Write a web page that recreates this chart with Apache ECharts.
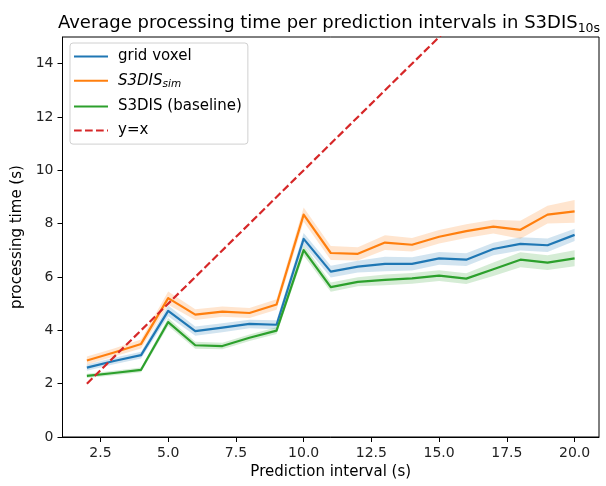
<!DOCTYPE html>
<html><head><meta charset="utf-8">
<script src="https://cdn.jsdelivr.net/npm/echarts@6/dist/echarts.min.js"></script>
<style>html,body{margin:0;padding:0;background:#fff}#c{width:606px;height:486px}</style>
</head><body><div id="c"></div>
<script>
// ---- data ----
const intervals = [2,3,4,5,6,7,8,9,10,11,12,13,14,15,16,17,18,19,20];
const gridVoxel    = [2.60,2.85,3.07,4.73,3.97,4.10,4.24,4.21,7.43,6.20,6.39,6.49,6.49,6.70,6.65,7.05,7.24,7.19,7.58];
const gridVoxelErr = [0.12,0.12,0.13,0.20,0.17,0.17,0.16,0.17,0.22,0.22,0.22,0.27,0.25,0.24,0.24,0.23,0.25,0.25,0.23];
const s3disSim     = [2.87,3.17,3.49,5.21,4.59,4.70,4.65,4.97,8.34,6.90,6.87,7.29,7.21,7.51,7.72,7.89,7.77,8.34,8.46];
const s3disSimErr  = [0.15,0.15,0.17,0.25,0.20,0.19,0.19,0.20,0.27,0.26,0.25,0.28,0.25,0.25,0.26,0.26,0.34,0.33,0.43];
const baseline     = [2.29,2.40,2.52,4.31,3.44,3.41,3.72,3.99,7.01,5.62,5.82,5.89,5.95,6.05,5.94,6.29,6.65,6.54,6.70];
const baselineErr  = [0.08,0.08,0.09,0.15,0.13,0.12,0.12,0.13,0.20,0.17,0.17,0.20,0.20,0.20,0.20,0.25,0.28,0.28,0.30];
const identityX = [2, 20];
const identityY = [2, 20];
const xTicks = [2.5,5,7.5,10,12.5,15,17.5,20];
const yTicks = [0,2,4,6,8,10,12,14];

const FONT = 'DejaVu Sans';
const C_BLUE = '#1f77b4', C_ORANGE = '#ff7f0e', C_GREEN = '#2ca02c', C_RED = '#d62728';

function pairs(xs, ys){ return xs.map((x,i)=>[x, ys[i]]); }

function band(name, vals, errs, fill){
  return {
    type:'custom', name:name, coordinateSystem:'cartesian2d', silent:true, clip:true,
    data:[[intervals[0], vals[0]]],
    renderItem:function(params, api){
      const pts = [];
      for (let i=0;i<intervals.length;i++) pts.push(api.coord([intervals[i], vals[i]+errs[i]]));
      for (let i=intervals.length-1;i>=0;i--) pts.push(api.coord([intervals[i], vals[i]-errs[i]]));
      return {type:'polygon', shape:{points:pts}, style:{fill:fill, stroke:null}};
    }
  };
}
function line(name, vals, color){
  return {
    type:'line', name:name, data:pairs(intervals, vals), symbol:'none', showSymbol:false,
    lineStyle:{color:color, width:2.2, join:'round'}, itemStyle:{color:color}, animation:false
  };
}

const chart = echarts.init(document.getElementById('c'), null, {renderer:'canvas'});
chart.setOption({
  animation:false,
  backgroundColor:'#fff',
  title:{
    text:'{a|Average processing time per prediction intervals in S3DIS}{b|10s}',
    left:324, top:6, textAlign:'center',
    textStyle:{
      fontWeight:'normal',
      rich:{
        a:{fontFamily:FONT, fontSize:18, fontWeight:'normal', color:'#000', lineHeight:24},
        b:{fontFamily:FONT, fontSize:12.5, fontWeight:'normal', color:'#000', lineHeight:10, verticalAlign:'bottom'}
      }
    }
  },
  legend:{
    orient:'vertical', left:70, top:43,
    padding:[6,6,6,3],
    itemWidth:34, itemHeight:18, itemGap:9.2,
    borderColor:'#d0d0d0', borderWidth:1, borderRadius:3,
    backgroundColor:'rgba(255,255,255,0.8)',
    itemStyle:{opacity:0, borderWidth:0},
    data:['grid voxel','S3DIS_sim','S3DIS (baseline)','y=x'],
    formatter:function(name){
      if (name === 'S3DIS_sim') return '{i|S3DIS}{s|sim}';
      return '{n|' + name + '}';
    },
    textStyle:{
      padding:[0,0,0,5],
      rich:{
        n:{fontFamily:FONT, fontSize:15, color:'#000', lineHeight:18},
        i:{fontFamily:FONT, fontSize:15, color:'#000', lineHeight:18, fontStyle:'italic'},
        s:{fontFamily:FONT, fontSize:10.5, color:'#000', lineHeight:8, fontStyle:'italic', verticalAlign:'bottom'}
      }
    }
  },
  grid:{left:62.5, right:7, top:37, bottom:49, show:true, borderColor:'#000', borderWidth:1, backgroundColor:'transparent', outerBoundsMode:'none'},
  xAxis:{
    type:'value', min:1.1, max:20.9,
    name:'Prediction interval (s)', nameLocation:'middle', nameGap:27,
    nameTextStyle:{fontFamily:FONT, fontSize:15, color:'#000'},
    axisLine:{show:true, onZero:false, lineStyle:{color:'#000', width:1}},
    axisTick:{show:true, length:5, customValues:xTicks, lineStyle:{color:'#000'}},
    axisLabel:{show:true, customValues:xTicks, margin:9, formatter:function(v){return Number(v).toFixed(1);}, fontFamily:FONT, fontSize:14, color:'#222'},
    splitLine:{show:false}
  },
  yAxis:{
    type:'value', min:0, max:15,
    name:'processing time (s)', nameLocation:'middle', nameGap:36,
    nameTextStyle:{fontFamily:FONT, fontSize:15, color:'#000'},
    axisLine:{show:true, lineStyle:{color:'#000', width:1}},
    axisTick:{show:true, length:5, customValues:yTicks, lineStyle:{color:'#000'}},
    axisLabel:{show:true, customValues:yTicks, margin:9, fontFamily:FONT, fontSize:14, color:'#222'},
    splitLine:{show:false}
  },
  series:[
    band('grid voxel band', gridVoxel, gridVoxelErr, 'rgba(31,119,180,0.2)'),
    line('grid voxel', gridVoxel, C_BLUE),
    band('S3DIS_sim band', s3disSim, s3disSimErr, 'rgba(255,127,14,0.2)'),
    line('S3DIS_sim', s3disSim, C_ORANGE),
    band('baseline band', baseline, baselineErr, 'rgba(44,160,44,0.2)'),
    line('S3DIS (baseline)', baseline, C_GREEN),
    {
      type:'line', name:'y=x', data:pairs(identityX, identityY), symbol:'none', showSymbol:false, clip:true,
      lineStyle:{color:C_RED, width:2.2, type:[7.7,3.3]}, itemStyle:{color:C_RED}
    }
  ]
});
</script>
</body></html>
